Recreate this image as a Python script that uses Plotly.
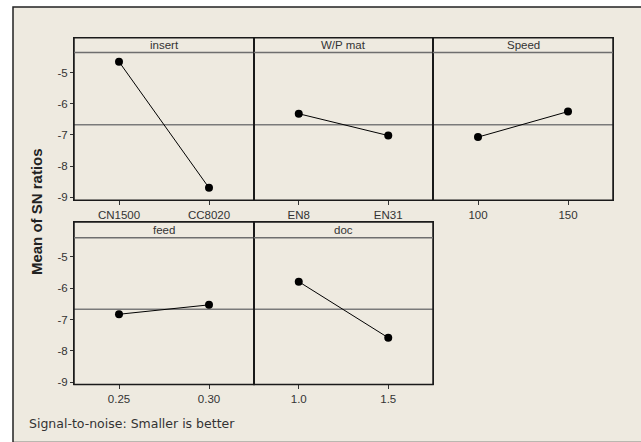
import numpy as np
import plotly.graph_objects as go

# ---- data ----
factors = ["insert", "W/P mat", "Speed", "feed", "doc"]
levels = [["CN1500", "CC8020"], ["EN8", "EN31"], ["100", "150"], ["0.25", "0.30"], ["1.0", "1.5"]]
sn_means = [[-4.65, -8.70], [-6.32, -7.02], [-7.07, -6.25], [-6.83, -6.53], [-5.79, -7.58]]
y_ticks = [-9, -8, -7, -6, -5]
y_ticklabels = ["-9", "-8", "-7", "-6", "-5"]
y_title = "Mean of SN ratios"
footnote = "Signal-to-noise: Smaller is better"

W, H = 641, 442
BG = "#EEEAE0"
FONT = "Liberation Sans"


def px(x):
    return x / W


def py(y):
    return 1 - y / H


# panel geometry in pixels: (x0, x1) and (top, strip_bottom, bottom)
cols = [(74, 254), (254, 433), (433, 613)]
rows = [(38, 53, 202), (224, 240, 388)]
yranges = [[-9.095, -3.877], [-9.073, -3.883]]

grand_mean = float(np.mean([v for pair in sn_means for v in pair]))

fig = go.Figure()
shapes = []
annotations = []

# background frame
shapes.append(dict(type="rect", xref="paper", yref="paper", x0=px(13), x1=1.01, y0=-0.01, y1=py(7),
                   fillcolor=BG, line=dict(color="#222", width=1.5), layer="below"))

for i, (name, lv, vals) in enumerate(zip(factors, levels, sn_means)):
    r, c = divmod(i, 3)
    x0, x1 = cols[c]
    top, sb, bot = rows[r]
    n = i + 1
    xa = "xaxis" if n == 1 else f"xaxis{n}"
    ya = "yaxis" if n == 1 else f"yaxis{n}"
    xr = "x" if n == 1 else f"x{n}"
    yr = "y" if n == 1 else f"y{n}"
    fig.add_trace(go.Scatter(x=[1, 2], y=vals, mode="lines+markers", xaxis=xr, yaxis=yr,
                             line=dict(color="black", width=1),
                             marker=dict(color="black", size=8), showlegend=False,
                             hoverinfo="skip"))
    fig.layout[xa] = dict(domain=[px(x0), px(x1)], range=[0.5, 2.5], tickvals=[1, 2], ticktext=lv,
                          ticks="outside", ticklen=4, tickcolor="#333", showgrid=False, zeroline=False,
                          showline=True, mirror=True, linecolor="#222", linewidth=1,
                          tickfont=dict(family=FONT, size=11.5, color="#333"), anchor=yr, fixedrange=True)
    fig.layout[ya] = dict(domain=[py(bot), py(top)], range=yranges[r], tickvals=y_ticks,
                          ticktext=y_ticklabels,
                          ticks="outside" if c == 0 else "", ticklen=3, tickcolor="#333",
                          showticklabels=(c == 0), showgrid=False, zeroline=False,
                          showline=True, mirror=True, linecolor="#222", linewidth=1,
                          tickfont=dict(family=FONT, size=11.5, color="#333"), anchor=xr, fixedrange=True)
    # outer panel border
    shapes.append(dict(type="rect", xref="paper", yref="paper", x0=px(x0), x1=px(x1),
                       y0=py(bot), y1=py(top), line=dict(color="#1a1a1a", width=1.5)))
    # strip separator
    shapes.append(dict(type="line", xref="paper", yref="paper", x0=px(x0), x1=px(x1),
                       y0=py(sb), y1=py(sb), line=dict(color="#6e6e6e", width=1.5)))
    # grand mean line
    shapes.append(dict(type="line", xref=f"{xr} domain", yref=yr, x0=0, x1=1,
                       y0=grand_mean, y1=grand_mean, line=dict(color="#7a7a7a", width=1.5),
                       layer="below"))
    annotations.append(dict(text=name, xref="paper", yref="paper", x=px((x0 + x1) / 2),
                            y=py((top + sb) / 2), showarrow=False, xanchor="center", yanchor="middle",
                            font=dict(family=FONT, size=11.5, color="#333")))

annotations.append(dict(text=f"<b>{y_title}</b>", xref="paper", yref="paper", x=px(36), y=py(214),
                        textangle=-90, showarrow=False, xanchor="center", yanchor="middle",
                        font=dict(family=FONT, size=15, color="#222")))
annotations.append(dict(text=footnote, xref="paper", yref="paper", x=px(27), y=py(427),
                        showarrow=False, xanchor="left", yanchor="middle",
                        font=dict(family="DejaVu Sans", size=12.5, color="#333")))

fig.update_layout(width=W, height=H, margin=dict(l=0, r=0, t=0, b=0),
                  paper_bgcolor="white", plot_bgcolor="white",
                  shapes=shapes, annotations=annotations)

fig.write_html("out.html", config={"displayModeBar": False},
               post_script="document.body.style.margin='0px';document.body.style.overflow='hidden';")
